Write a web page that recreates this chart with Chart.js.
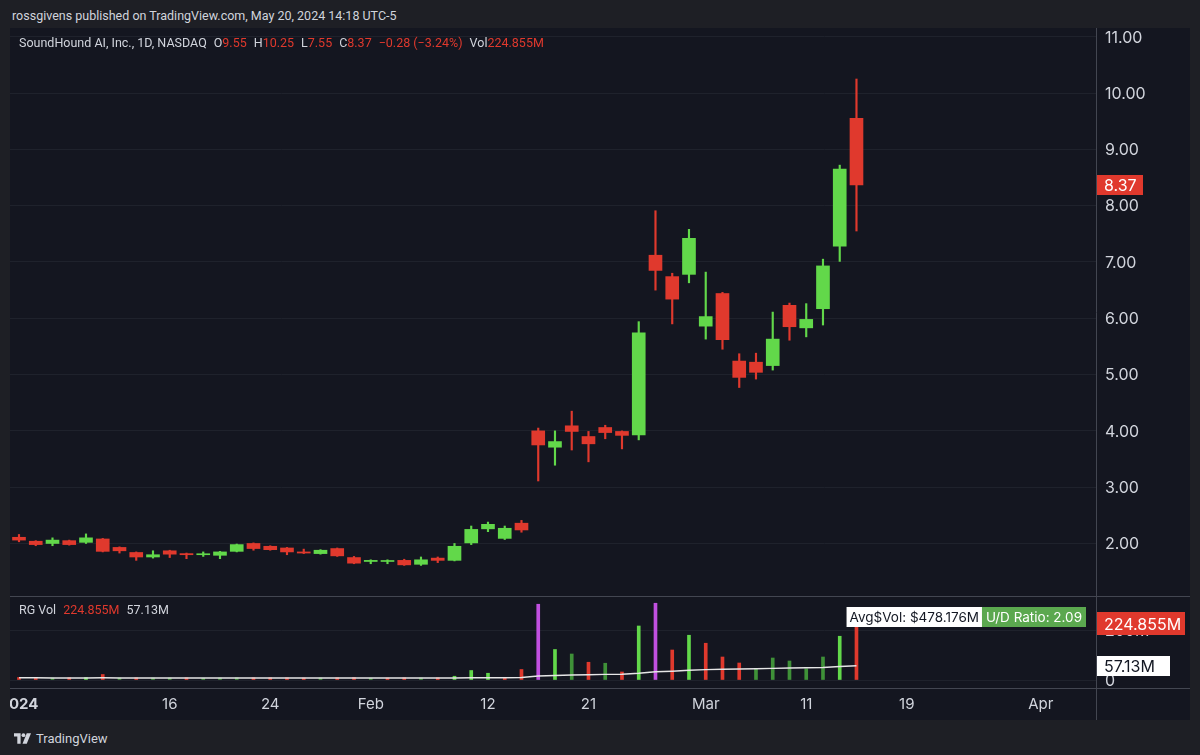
<!DOCTYPE html>
<html>
<head>
<meta charset="utf-8">
<script src="https://cdn.jsdelivr.net/npm/chart.js@4.4.1/dist/chart.umd.min.js"></script>
<style>
  html, body { margin: 0; padding: 0; }
  body { width: 1200px; height: 755px; background: #1e1f25; position: relative; overflow: hidden; font-family: Roboto, sans-serif; }
  #pane { position: absolute; left: 10px; top: 28px; width: 1180px; height: 692px; background: #141620; }
  #priceChart { position: absolute; left: 0; top: 0; }
  #volChart { position: absolute; left: 0; top: 568px; }
  .txt { position: absolute; white-space: nowrap; color: #d1d4dc; }
  .txt span { margin-left: 7px; }
  .txt span:first-child { margin-left: 0; }
  .r { color: #e0392d; }
  #footer { position: absolute; left: 14px; top: 729px; height: 18px; display: flex; align-items: center; color: #d1d4dc; font-size: 13px; }
  #footer svg { margin-right: 5px; }
</style>
</head>
<body>
<div class="txt" style="left:12px; top:8px; font-size:12.5px;">rossgivens published on TradingView.com, May 20, 2024 14:18 UTC-5</div>
<div id="pane">
  <canvas id="priceChart" width="1180" height="568"></canvas>
  <canvas id="volChart" width="1180" height="124"></canvas>
</div>
<div class="txt" id="legend" style="left:19px; top:35px; font-size:12.5px;"></div>
<div class="txt" id="volLegend" style="left:19px; top:602px; font-size:12.5px;"></div>
<div id="footer">
  <svg width="17" height="11" viewBox="0 0 36 22">
    <path d="M0 0h14v22H7V7H0z" fill="#d1d4dc"/>
    <circle cx="20" cy="4" r="4" fill="#d1d4dc"/>
    <path d="M27 0h9l-9 22h-9z" fill="#d1d4dc"/>
  </svg>
  <span>TradingView</span>
</div>

<script>
// trading days, Jan 2 2024 onwards (index = trading day)
const dates = ['Jan 2','Jan 3','Jan 4','Jan 5','Jan 8','Jan 9','Jan 10','Jan 11','Jan 12','Jan 16',
  'Jan 17','Jan 18','Jan 19','Jan 22','Jan 23','Jan 24','Jan 25','Jan 26','Jan 29','Jan 30','Jan 31',
  'Feb 1','Feb 2','Feb 5','Feb 6','Feb 7','Feb 8','Feb 9','Feb 12','Feb 13','Feb 14','Feb 15','Feb 16',
  'Feb 20','Feb 21','Feb 22','Feb 23','Feb 26','Feb 27','Feb 28','Feb 29',
  'Mar 1','Mar 4','Mar 5','Mar 6','Mar 7','Mar 8','Mar 11','Mar 12','Mar 13','Mar 14'];

const opens  = [2.11,2.04,2.00,2.05,2.02,2.08,1.93,1.84,1.76,1.87,1.82,1.80,1.79,1.86,2.00,1.95,1.92,1.85,1.82,1.91,
  1.75,1.68,1.68,1.70,1.63,1.74,1.70,2.01,2.26,2.09,2.36,4.00,3.71,4.09,3.90,4.06,3.99,3.93,7.12,6.74,
  6.78,5.86,6.44,5.24,5.22,5.16,6.23,5.83,6.17,7.28,9.55];
const highs  = [2.16,2.05,2.10,2.06,2.17,2.09,1.94,1.85,1.87,1.88,1.83,1.85,1.86,1.99,2.01,1.96,1.93,1.90,1.89,1.92,
  1.77,1.71,1.71,1.72,1.76,1.76,2.00,2.31,2.38,2.31,2.41,4.05,4.00,4.35,3.99,4.10,4.00,5.94,7.91,6.80,
  7.58,6.82,6.46,5.37,5.38,6.11,6.27,6.26,7.05,8.72,10.25];
const lows   = [2.03,1.96,1.96,1.97,2.00,1.85,1.83,1.70,1.74,1.75,1.73,1.77,1.73,1.85,1.88,1.88,1.80,1.82,1.81,1.77,
  1.64,1.64,1.64,1.61,1.61,1.66,1.69,1.98,2.21,2.07,2.20,3.11,3.39,3.66,3.45,3.86,3.68,3.84,6.50,5.90,
  6.63,5.63,5.45,4.77,4.92,5.08,5.61,5.67,5.88,7.01,7.55];
const closes = [2.06,1.98,2.06,1.98,2.10,1.86,1.87,1.76,1.80,1.81,1.80,1.81,1.85,1.98,1.91,1.89,1.85,1.83,1.88,1.78,
  1.65,1.70,1.69,1.62,1.71,1.70,1.95,2.25,2.34,2.27,2.24,3.75,3.81,3.99,3.77,3.97,3.92,5.74,6.85,6.34,
  7.42,6.03,5.62,4.95,5.04,5.63,5.85,5.98,6.93,8.65,8.37];
const prevClose = 2.12;

// volume in millions and its average line (RG Vol)
const volumes = [10,9,8,9,10,22,8,9,8,8,9,7,8,9,9,9,9,8,8,9,
  10,7,8,9,8,9,15,38,27,10,42,303,122,104,71,67,32,216,307,120,
  179,147,92,68,43,88,76,45,92,175,224.855];
const volAvg = [8.6,8.6,8.5,8.5,8.5,8.6,8.5,8.5,8.4,8.4,8.4,8.3,8.3,8.3,8.3,8.3,8.2,8.2,8.2,8.2,
  8.2,8.1,8.1,8.1,8.1,8.1,8.2,8.8,9.2,9.2,9.9,15.8,18.1,20.0,21.3,22.5,22.9,27.1,33.0,35.3,
  38.7,41.5,43.1,44.3,44.9,46.5,47.9,48.6,50.3,53.6,57.13];
const pivotDays = [31, 38];
const strongDays = [4, 26, 27, 28, 32, 37, 40, 49];
const avgDollarVol = 478.176;
const udRatio = 2.09;

const priceTicks = [2, 3, 4, 5, 6, 7, 8, 9, 10, 11];
const volTicks = [0, 200];
const tickIdx = [0, 9, 15, 21, 28, 34, 41, 47, 53, 61];
const tickLabels = ['2024', '16', '24', 'Feb', '12', '21', 'Mar', '11', '19', 'Apr'];

const RED = '#e0392d', GREEN = '#62d84a', DKGREEN = '#3f9138', PURPLE = '#c150e0';
const TXT = '#d1d4dc', GRID = '#1f222c', LINE = '#434651';
const AXIS_W = 94;
const xMin = -0.537, xMax = 64.30;
const last = closes.length - 1;

// legends
const chg = closes[last] - closes[last - 1];
const pct = chg / closes[last - 1] * 100;
document.getElementById('legend').innerHTML =
  '<span>SoundHound AI, Inc., 1D, NASDAQ</span>' +
  '<span>O<b class="r" style="font-weight:normal">' + opens[last].toFixed(2) + '</b></span>' +
  '<span>H<b class="r" style="font-weight:normal">' + highs[last].toFixed(2) + '</b></span>' +
  '<span>L<b class="r" style="font-weight:normal">' + lows[last].toFixed(2) + '</b></span>' +
  '<span>C<b class="r" style="font-weight:normal">' + closes[last].toFixed(2) + '</b></span>' +
  '<span class="r">\u2212' + Math.abs(chg).toFixed(2) + ' (\u2212' + Math.abs(pct).toFixed(2) + '%)</span>' +
  '<span>Vol<b class="r" style="font-weight:normal">' + volumes[last].toFixed(3) + 'M</b></span>';
document.getElementById('volLegend').innerHTML =
  '<span>RG Vol</span><span class="r">' + volumes[last].toFixed(3) + 'M</span><span>' + volAvg[last].toFixed(2) + 'M</span>';

const candleColors = opens.map((o, i) => closes[i] >= o ? GREEN : RED);
const volColors = volumes.map((v, i) => {
    if (pivotDays.includes(i)) return PURPLE;
    const prev = i === 0 ? prevClose : closes[i - 1];
    if (closes[i] < prev) return RED;
    return strongDays.includes(i) ? GREEN : DKGREEN;
});

function tag(ctx, x, yc, w, h, bg, fg, text) {
    ctx.fillStyle = bg;
    ctx.fillRect(x, Math.round(yc - h / 2), w, h);
    ctx.fillStyle = fg;
    ctx.font = '16px Inter';
    ctx.textBaseline = 'middle';
    ctx.textAlign = 'left';
    ctx.fillText(text, x + 7, yc + 1);
}

function axisLabels(chart, values, fmt) {
    const ctx = chart.ctx;
    const ys = chart.scales.y;
    ctx.fillStyle = TXT;
    ctx.font = '16px Inter';
    ctx.textBaseline = 'middle';
    ctx.textAlign = 'left';
    values.forEach(v => ctx.fillText(fmt(v), chart.chartArea.right + 9, ys.getPixelForValue(v) + 1));
}

const pricePlugin = {
    id: 'priceTag',
    afterDraw(chart) {
        const ctx = chart.ctx;
        ctx.save();
        axisLabels(chart, priceTicks, v => v.toFixed(2));
        const y = chart.scales.y.getPixelForValue(closes[last]);
        tag(ctx, chart.chartArea.right + 1, y, 46, 20, RED, '#ffffff', closes[last].toFixed(2));
        ctx.restore();
    }
};

const volPlugin = {
    id: 'volTags',
    afterDraw(chart) {
        const ctx = chart.ctx;
        const area = chart.chartArea;
        const xs = chart.scales.x;
        const ys = chart.scales.y;
        ctx.save();
        ctx.strokeStyle = LINE;
        ctx.lineWidth = 1;
        ctx.beginPath();
        ctx.moveTo(0, area.top + 0.5); ctx.lineTo(chart.width, area.top + 0.5);
        ctx.moveTo(0, area.bottom + 0.5); ctx.lineTo(chart.width, area.bottom + 0.5);
        ctx.moveTo(area.right + 0.5, area.top); ctx.lineTo(area.right + 0.5, chart.height);
        ctx.stroke();

        // time axis
        ctx.fillStyle = TXT;
        ctx.textBaseline = 'middle';
        ctx.textAlign = 'center';
        tickIdx.forEach((v, k) => {
            ctx.font = (k === 0 ? 'bold ' : '') + '15px Inter';
            ctx.fillText(tickLabels[k], xs.getPixelForValue(v), area.bottom + 16);
        });

        axisLabels(chart, volTicks, v => v === 0 ? '0' : v + 'M');
        tag(ctx, area.right + 1, ys.getPixelForValue(volumes[last]), 88, 23, RED, '#ffffff', volumes[last].toFixed(3) + 'M');
        tag(ctx, area.right + 1, ys.getPixelForValue(volAvg[last]), 73, 20, '#ffffff', '#131722', volAvg[last].toFixed(2) + 'M');

        // Avg$Vol and U/D ratio box
        ctx.font = '13.5px Inter';
        ctx.textAlign = 'left';
        const t1 = 'Avg$Vol: $' + avgDollarVol.toFixed(3) + 'M';
        const t2 = 'U/D Ratio: ' + udRatio.toFixed(2);
        const w1 = ctx.measureText(t1).width + 6;
        const w2 = ctx.measureText(t2).width + 8;
        const right = area.right - 10, top = area.top + 11, h = 20;
        ctx.fillStyle = '#5ba84f';
        ctx.fillRect(right - w2, top, w2, h);
        ctx.fillStyle = '#ffffff';
        ctx.fillRect(right - w2 - w1, top, w1, h);
        ctx.fillStyle = '#131722';
        ctx.fillText(t1, right - w2 - w1 + 3, top + h / 2 + 1);
        ctx.fillStyle = '#ffffff';
        ctx.fillText(t2, right - w2 + 4, top + h / 2 + 1);
        ctx.restore();
    }
};

new Chart(document.getElementById('priceChart'), {
    type: 'bar',
    data: {
        datasets: [{
            data: opens.map((o, i) => ({ x: i, y: [o, closes[i]] })),
            backgroundColor: candleColors,
            barThickness: 13,
            minBarLength: 1,
            grouped: false,
            order: 0
        }, {
            data: lows.map((l, i) => ({ x: i, y: [l, highs[i]] })),
            backgroundColor: candleColors,
            barThickness: 1.5,
            grouped: false,
            order: 1
        }]
    },
    options: {
        responsive: false,
        animation: false,
        layout: { padding: 0 },
        plugins: { legend: { display: false }, tooltip: { enabled: false } },
        scales: {
            x: { type: 'linear', display: false, min: xMin, max: xMax, offset: false },
            y: {
                type: 'linear', position: 'right', min: 1.067, max: 11.156,
                afterBuildTicks: s => { s.ticks = priceTicks.map(v => ({ value: v })); },
                afterFit: s => { s.width = AXIS_W; },
                grid: { color: GRID, drawTicks: false },
                border: { display: true, color: LINE },
                ticks: { display: false }
            }
        }
    },
    plugins: [pricePlugin]
});

new Chart(document.getElementById('volChart'), {
    type: 'bar',
    data: {
        datasets: [{
            type: 'line',
            data: volAvg.map((v, i) => ({ x: i, y: v })),
            borderColor: '#e6e6e6',
            borderWidth: 1.5,
            pointRadius: 0,
            order: 0
        }, {
            data: volumes.map((v, i) => ({ x: i, y: v })),
            backgroundColor: volColors,
            barThickness: 3,
            grouped: false,
            order: 1
        }]
    },
    options: {
        responsive: false,
        animation: false,
        layout: { padding: 0 },
        plugins: { legend: { display: false }, tooltip: { enabled: false } },
        scales: {
            x: {
                type: 'linear', min: xMin, max: xMax, offset: false, position: 'bottom',
                afterBuildTicks: s => { s.ticks = tickIdx.map(v => ({ value: v })); },
                afterFit: s => { s.height = 32; },
                grid: { display: false, drawTicks: false },
                border: { display: false },
                ticks: { display: false }
            },
            y: {
                type: 'linear', position: 'right', min: -32, max: 336,
                afterBuildTicks: s => { s.ticks = volTicks.map(v => ({ value: v })); },
                afterFit: s => { s.width = AXIS_W; },
                grid: { color: GRID, drawTicks: false },
                border: { display: false },
                ticks: { display: false }
            }
        }
    },
    plugins: [volPlugin]
});
</script>
</body>
</html>
